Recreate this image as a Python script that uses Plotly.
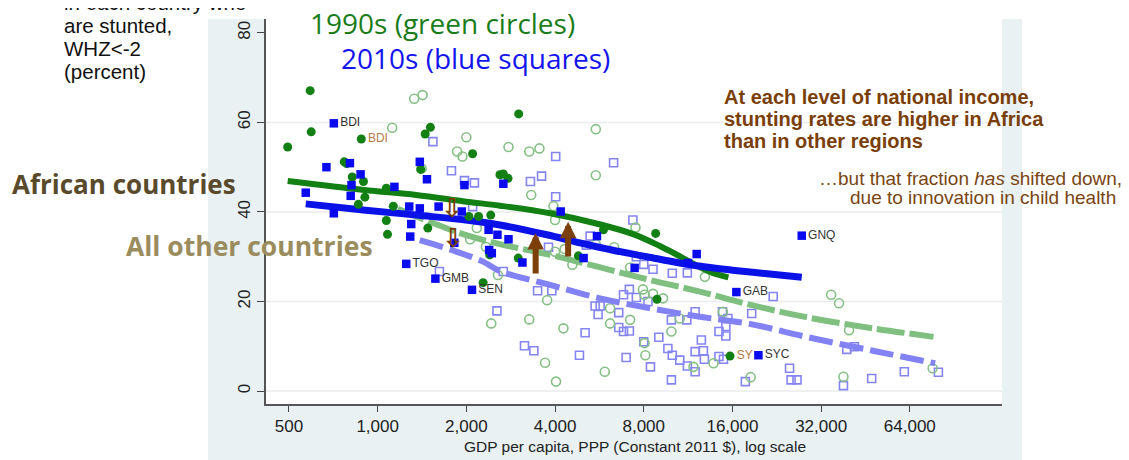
import numpy as np
import plotly.graph_objects as go

# ---------------- data (GDP per capita PPP, stunting %) ----------------
afr90_gdp = [495, 590, 595, 770, 785, 820, 860, 880, 895, 905, 1070, 1070, 1080, 1130, 1400, 1450, 1480, 1510,
             2040, 2100, 2200, 2280, 2400, 2420, 2600, 2670, 2770, 3000, 3010, 4800, 5840, 8780, 8870, 15700]
afr90_stunt = [54.5, 67.1, 57.9, 51.2, 50.8, 47.8, 41.7, 56.3, 46.8, 43.3, 45.3, 38.1, 35.0, 41.3, 49.5, 57.4, 36.4,
               58.9, 39.0, 53.0, 39.0, 24.2, 30.4, 39.3, 48.3, 48.5, 47.5, 29.7, 61.9, 30.2, 36.0, 35.2, 20.5, 7.8]
afr90_label = [""] * len(afr90_gdp)
afr90_label[7] = "BDI"
afr90_label[33] = "SY"

afr10_gdp = [570, 670, 710, 710, 805, 810, 815, 875, 1140, 1250, 1280, 1290, 1300, 1390, 1390, 1470, 1570, 1610,
             1820, 1930, 1970, 2090, 2380, 2390, 2440, 2550, 2670, 2780, 3100, 4180, 5000, 5550, 7450, 11300,
             12100, 16500, 19600, 27500]
afr10_stunt = [44.3, 50.0, 59.8, 39.7, 50.9, 43.6, 46.0, 48.4, 45.6, 28.4, 41.2, 34.5, 37.3, 51.2, 40.8, 47.3,
               25.1, 41.2, 33.1, 40.1, 46.0, 22.6, 36.0, 31.5, 30.8, 34.9, 46.3, 33.9, 28.7, 40.1, 29.7, 34.6,
               27.5, 28.6, 30.6, 22.1, 8.0, 34.7]
afr10_label = [""] * len(afr10_gdp)
afr10_label[2] = "BDI"
afr10_label[9] = "TGO"
afr10_label[16] = "GMB"
afr10_label[21] = "SEN"
afr10_label[35] = "GAB"
afr10_label[36] = "SYC"
afr10_label[37] = "GNQ"

oth90_gdp = [1120, 1330, 1410, 1420, 1860, 1940, 2000, 2060, 2170, 2330, 2430, 2560, 2780, 3270, 3270, 3320, 3540,
             3700, 3760, 3950, 4000, 4000, 4030, 4270, 4310, 4580, 5500, 5500, 5500, 5900, 6150, 6150, 6350, 7190,
             7190, 7500, 7950, 8050, 8050, 8100, 8600, 9300, 9930, 10600, 11800, 12900, 13800, 14850, 18450,
             34600, 36800, 38100, 39800, 76500]
oth90_stunt = [58.8, 65.3, 49.7, 66.1, 53.5, 52.4, 56.7, 33.9, 36.4, 32.2, 15.1, 25.9, 54.5, 53.5, 16.0, 43.8,
               54.2, 6.3, 20.3, 41.3, 38.2, 31.1, 2.1, 14.0, 31.7, 28.2, 58.5, 48.2, 32.8, 4.3, 18.5, 15.1, 32.1,
               27.6, 15.9, 36.5, 22.7, 21.5, 10.7, 8.0, 21.7, 20.7, 13.3, 16.2, 5.4, 25.5, 6.2, 17.7, 3.1, 21.5,
               19.6, 3.2, 13.6, 5.1]

oth10_gdp = [1540, 1620, 1780, 1970, 2100, 2130, 2540, 2670, 3150, 3300, 3390, 3490, 3600, 3800, 3900, 4020, 4020,
             4840, 5060, 5110, 5260, 5470, 5600, 5690, 6320, 6580, 6580, 6830, 6830, 6970, 7150, 7150, 7350, 7550,
             7550, 8000, 8000, 8270, 8430, 8600, 9000, 9660, 9930, 9930, 10000, 10000, 10600, 11200, 11250, 11250,
             11950, 11950, 11950, 12550, 12750, 12850, 14400, 14400, 14800, 14920, 15200, 15200, 15440, 17700,
             18600, 22000, 25000, 25300, 26500, 38100, 39100, 41500, 47500, 61300, 80000]
oth10_stunt = [55.7, 26.7, 49.2, 47.0, 41.2, 46.5, 17.9, 26.7, 10.1, 46.8, 9.0, 22.4, 48.0, 32.1, 22.4, 52.4, 43.4,
               8.0, 13.0, 32.6, 34.6, 19.0, 17.1, 19.0, 51.0, 17.5, 14.2, 21.5, 13.3, 7.5, 22.7, 13.4, 38.2, 30.0,
               20.9, 28.3, 11.0, 20.0, 5.4, 27.2, 12.0, 9.5, 15.9, 2.5, 26.3, 8.0, 6.9, 15.9, 26.4, 5.6, 17.7, 8.8,
               4.3, 11.4, 9.0, 7.1, 13.3, 7.7, 17.7, 7.1, 14.4, 12.3, 16.2, 2.1, 17.3, 21.1, 5.1, 2.5, 2.5, 1.2,
               9.3, 9.9, 2.8, 4.3, 4.2]

# smoothed (lowess) fits
afr90_fit_gdp = [495, 900, 1350, 2000, 2600, 3850, 5700, 7400, 9070, 10600, 12100, 13700, 15500]
afr90_fit = [46.9, 44.9, 43.8, 42.3, 41.4, 39.7, 37.2, 35.0, 32.4, 30.1, 28.0, 26.4, 25.4]
afr10_fit_gdp = [570, 910, 1350, 1990, 2600, 3750, 4860, 6240, 8200, 10600, 13000, 16000, 21000, 27500]
afr10_fit = [41.8, 40.4, 39.3, 38.2, 37.1, 34.9, 33.1, 31.5, 30.0, 28.6, 27.7, 27.0, 26.2, 25.4]
oth90_fit_gdp = [1170, 1500, 2000, 2600, 3850, 5700, 8400, 12400, 18300, 28500, 48000, 77000]
oth90_fit = [40.7, 37.8, 34.8, 32.8, 30.4, 27.6, 24.8, 22.2, 19.3, 16.5, 14.0, 12.1]
oth10_fit_gdp = [1390, 1780, 2280, 2600, 3850, 5690, 8400, 12400, 18300, 28500, 48000, 78000]
oth10_fit = [33.7, 31.5, 28.9, 26.8, 23.7, 20.7, 18.5, 16.6, 15.0, 12.1, 9.0, 6.2]

# arrows
up_arrow_gdp = [3437, 4430]
up_arrow_from = [25.9, 29.7]
up_arrow_to = [35.3, 37.8]
down_arrow_gdp = [1790, 1800]
down_arrow_y = [40.8, 34.2]

x_ticks = [500, 1000, 2000, 4000, 8000, 16000, 32000, 64000]
x_ticktext = ["500", "1,000", "2,000", "4,000", "8,000", "16,000", "32,000", "64,000"]
y_ticks = [0, 20, 40, 60, 80]
grid_vals = [0, 20, 40, 60]

# ---------------- layout geometry ----------------
# the page body adds an 8px offset, so the figure is drawn 8px smaller
OFF = 8
W, H = 1129 - OFF, 460 - OFF
L, R, T, B = 266, 127, 19, 56          # plot-area edges in window pixels
PW, PH = 1002 - L, 404 - T


def PX(x):
    return (x - L) / PW


def PY(y):
    return (404 - y) / PH


DKGREEN = "#138013"
BLUE = "#0a0aee"
LTGREEN = "#86c086"
LTBLUE = "#8585f2"
BROWN = "#7a3e08"
SANS = "Liberation Sans, Arial, sans-serif"
NARROW = "Liberation Sans Narrow, Arial Narrow, Liberation Sans, sans-serif"
OPEN = "Open Sans, sans-serif"

fig = go.Figure()

fig.add_trace(go.Scatter(x=oth10_gdp, y=oth10_stunt, mode="markers",
                         marker=dict(symbol="square-open", size=8, color=LTBLUE, line=dict(width=1.6, color=LTBLUE))))
fig.add_trace(go.Scatter(x=oth90_gdp, y=oth90_stunt, mode="markers",
                         marker=dict(symbol="circle-open", size=9, color=LTGREEN, line=dict(width=1.6, color=LTGREEN))))
fig.add_trace(go.Scatter(x=oth90_fit_gdp, y=oth90_fit, mode="lines", line_shape="spline",
                         line=dict(color="#7fbf7f", width=6, dash="28px,5px")))
fig.add_trace(go.Scatter(x=oth10_fit_gdp, y=oth10_fit, mode="lines", line_shape="spline",
                         line=dict(color="#8282f5", width=6, dash="24px,7px")))
fig.add_trace(go.Scatter(x=afr90_fit_gdp, y=afr90_fit, mode="lines", line_shape="spline",
                         line=dict(color=DKGREEN, width=6)))
fig.add_trace(go.Scatter(x=afr10_fit_gdp, y=afr10_fit, mode="lines", line_shape="spline",
                         line=dict(color="#0b12e8", width=7)))
fig.add_trace(go.Scatter(x=afr90_gdp, y=afr90_stunt, mode="markers+text", text=afr90_label,
                         textposition="middle right", textfont=dict(family=SANS, size=12, color="#b57a45"),
                         marker=dict(symbol="circle", size=9, color=DKGREEN)))
fig.add_trace(go.Scatter(x=afr10_gdp, y=afr10_stunt, mode="markers+text", text=afr10_label,
                         textposition="middle right", textfont=dict(family=SANS, size=12, color="#333333"),
                         marker=dict(symbol="square", size=8.5, color=BLUE)))

shapes = [
    dict(type="rect", xref="paper", yref="paper", x0=PX(208), x1=PX(1022), y0=PY(470), y1=PY(19),
         fillcolor="#e9f1f3", line=dict(width=0), layer="below"),
    dict(type="rect", xref="paper", yref="paper", x0=0, x1=1, y0=0, y1=1,
         fillcolor="white", line=dict(width=0), layer="below"),
]
for g in grid_vals:
    shapes.append(dict(type="line", xref="paper", yref="y", x0=0, x1=1, y0=g, y1=g,
                       line=dict(color="#eaeced", width=1.5), layer="below"))

ann = []


def txt(text, x, y, size, color, family=SANS, xanchor="left"):
    ann.append(dict(text=text, x=PX(x), y=PY(y), xref="paper", yref="paper", xanchor=xanchor,
                    yanchor="middle", showarrow=False, font=dict(family=family, size=size, color=color)))


for line, yy in [("in each country who", 2), ("are stunted,", 25), ("WHZ&lt;-2", 48), ("(percent)", 71)]:
    txt(line, 62, yy, 20.5, "#111")
txt("1990s (green circles)", 308, 23, 28, "#1a7d1a", OPEN)
txt("2010s (blue squares)", 339, 58, 28, "#1414ee", OPEN)
for line, yy in [("At each level of national income,", 97), ("stunting rates are higher in Africa", 119),
                 ("than in other regions", 141)]:
    txt("<b>" + line + "</b>", 722, yy, 20, BROWN, NARROW)
txt("…but that fraction <i>has</i> shifted down,", 1124, 178, 19, "#7a4512", NARROW, "right")
txt("due to innovation in child health", 1118, 197, 19, "#7a4512", NARROW, "right")
txt("<b>African countries</b>", 10, 184, 26, "#5a4a2c", OPEN)
txt("<b>All other countries</b>", 124, 246, 26.5, "#9a8c5c", OPEN)
txt("GDP per capita, PPP (Constant 2011 $), log scale", 635, 446, 15.5, "#222", SANS, "center")

for g, y0, y1 in zip(up_arrow_gdp, up_arrow_from, up_arrow_to):
    ann.append(dict(x=np.log10(g), y=y1, ax=np.log10(g), ay=y0, xref="x", yref="y", axref="x", ayref="y",
                    showarrow=True, arrowhead=2, arrowsize=0.55, arrowwidth=6, arrowcolor="#7b3f0a",
                    standoff=0, text=""))
for g, yy in zip(down_arrow_gdp, down_arrow_y):
    ann.append(dict(x=np.log10(g), y=yy, xref="x", yref="y", text="<b>⇩</b>", showarrow=False,
                    xanchor="center", yanchor="middle",
                    font=dict(family="DejaVu Sans, sans-serif", size=26, color="#7b3f0a")))

fig.update_layout(
    width=W, height=H, margin=dict(l=L - OFF, r=R, t=T - OFF, b=B),
    paper_bgcolor="white", plot_bgcolor="rgba(0,0,0,0)", showlegend=False,
    font=dict(family=SANS), shapes=shapes, annotations=ann,
    xaxis=dict(type="log", range=[2.621, 5.119], tickvals=x_ticks, ticktext=x_ticktext, ticks="outside",
               ticklen=6, tickwidth=1.2, tickcolor="#444", showline=True, linecolor="#555", linewidth=1.5,
               showgrid=False, zeroline=False, tickfont=dict(family=SANS, size=17, color="#222")),
    yaxis=dict(range=[-2.9, 83.1], tickvals=y_ticks, tickangle=-90, ticks="outside", ticklen=7,
               tickwidth=1.2, tickcolor="#444", showline=True, linecolor="#555", linewidth=1.5,
               showgrid=False, zeroline=False, tickfont=dict(family=SANS, size=17, color="#222")),
)

fig.write_html("out.html")
